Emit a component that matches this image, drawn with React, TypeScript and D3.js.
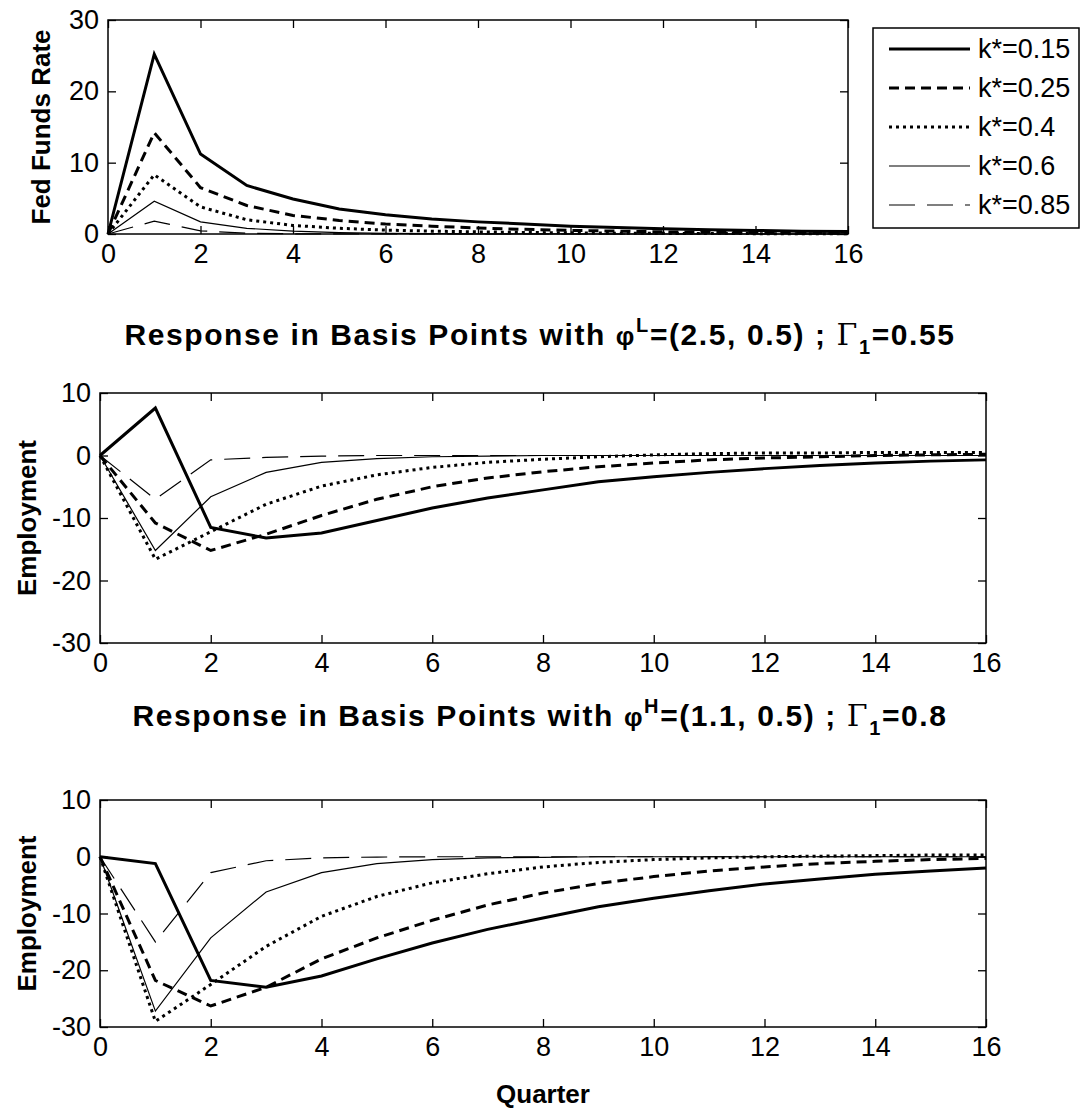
import React, { useEffect, useRef } from "react";
import * as d3 from "d3";

// quarters after the shock
const quarters = d3.range(0, 17);
const seriesLabels = ["k*=0.15", "k*=0.25", "k*=0.4", "k*=0.6", "k*=0.85"];

// Fed Funds Rate responses
const fedK015 = [0, 25.2, 11.2, 6.8, 4.9, 3.5, 2.7, 2.1, 1.7, 1.4, 1.1, 0.9, 0.75, 0.6, 0.5, 0.4, 0.35];
const fedK025 = [0, 14.2, 6.5, 4.0, 2.6, 1.9, 1.4, 1.1, 0.85, 0.65, 0.5, 0.4, 0.3, 0.25, 0.2, 0.15, 0.12];
const fedK04 = [0, 8.3, 3.8, 2.0, 1.2, 0.8, 0.55, 0.4, 0.3, 0.22, 0.16, 0.12, 0.09, 0.07, 0.05, 0.04, 0.03];
const fedK06 = [0, 4.6, 1.7, 0.8, 0.4, 0.2, 0.1, 0.05, 0.03, 0.02, 0.01, 0, 0, 0, 0, 0, 0];
const fedK085 = [0, 1.8, 0.45, 0.1, 0.03, 0.01, 0, 0, 0, 0, 0, 0, 0, 0, 0, 0, 0];

// Employment, phi^L = (2.5, 0.5), Gamma_1 = 0.55
const empLK015 = [0, 7.6, -11.5, -13.2, -12.4, -10.4, -8.4, -6.8, -5.5, -4.2, -3.4, -2.7, -2.1, -1.6, -1.2, -0.9, -0.7];
const empLK025 = [0, -10.8, -15.2, -12.6, -9.6, -7.0, -5.0, -3.6, -2.6, -1.8, -1.2, -0.7, -0.4, -0.2, 0, 0.1, 0.2];
const empLK04 = [0, -16.6, -12.2, -7.8, -4.9, -3.1, -1.9, -1.1, -0.6, -0.2, 0.1, 0.3, 0.4, 0.4, 0.5, 0.5, 0.5];
const empLK06 = [0, -15.2, -6.6, -2.7, -1.1, -0.5, -0.2, -0.1, 0, 0, 0, 0, 0, 0, 0, 0, 0];
const empLK085 = [0, -7.0, -0.7, -0.3, -0.1, 0, 0, 0, 0, 0, 0, 0, 0, 0, 0, 0, 0];

// Employment, phi^H = (1.1, 0.5), Gamma_1 = 0.8
const empHK015 = [0, -1.2, -21.8, -23.0, -21.0, -18.0, -15.2, -12.8, -10.8, -8.8, -7.3, -6.0, -4.8, -3.9, -3.1, -2.5, -2.0];
const empHK025 = [0, -21.8, -26.3, -23.0, -18.0, -14.3, -11.2, -8.5, -6.4, -4.7, -3.5, -2.5, -1.8, -1.2, -0.8, -0.5, -0.3];
const empHK04 = [0, -29.0, -22.5, -15.8, -10.5, -7.0, -4.6, -3.0, -1.8, -1.0, -0.5, -0.2, 0, 0.1, 0.2, 0.3, 0.3];
const empHK06 = [0, -27.2, -14.3, -6.2, -2.8, -1.2, -0.5, -0.2, -0.1, 0, 0, 0, 0, 0, 0, 0, 0];
const empHK085 = [0, -15.0, -2.8, -0.7, -0.2, -0.05, 0, 0, 0, 0, 0, 0, 0, 0, 0, 0, 0];

const xTicks = d3.range(0, 17, 2);
const fedTicks = [0, 10, 20, 30];
const empTicks = [-30, -20, -10, 0, 10];

const lineStyles = [
  { width: 3, dash: null },
  { width: 3, dash: "10,6" },
  { width: 3, dash: "3,4" },
  { width: 1.2, dash: null },
  { width: 1.2, dash: "26,12" },
];

const FONT = "'Liberation Sans', Arial, Helvetica, sans-serif";

export default function App() {
  const svgRef = useRef<SVGSVGElement>(null);

  useEffect(() => {
    document.body.style.margin = "0";
    const svg = d3.select(svgRef.current);
    svg.selectAll("*").remove();

    const panels = [
      {
        left: 108, right: 848, top: 20, bottom: 234,
        yDomain: [0, 30], yTicks: fedTicks,
        series: [fedK015, fedK025, fedK04, fedK06, fedK085],
        yLabel: "Fed Funds Rate", labelX: 41,
      },
      {
        left: 100, right: 986, top: 393, bottom: 643,
        yDomain: [-30, 10], yTicks: empTicks,
        series: [empLK015, empLK025, empLK04, empLK06, empLK085],
        yLabel: "Employment", labelX: 27,
      },
      {
        left: 100, right: 986, top: 800, bottom: 1027,
        yDomain: [-30, 10], yTicks: empTicks,
        series: [empHK015, empHK025, empHK04, empHK06, empHK085],
        yLabel: "Employment", labelX: 27,
      },
    ];

    const plain = (d) => String(d);

    panels.forEach((p) => {
      const x = d3.scaleLinear().domain([0, 16]).range([p.left, p.right]);
      const y = d3.scaleLinear().domain(p.yDomain).range([p.bottom, p.top]);

      const g = svg.append("g");

      const line = d3
        .line<number>()
        .x((d, i) => x(quarters[i]))
        .y((d) => y(d));

      p.series.forEach((s, i) => {
        const st = lineStyles[i];
        g.append("path")
          .datum(s)
          .attr("fill", "none")
          .attr("stroke", "#000")
          .attr("stroke-width", st.width)
          .attr("stroke-dasharray", st.dash)
          .attr("stroke-linejoin", "miter")
          .attr("d", line);
      });

      // axes with inward ticks, mirrored on top/right
      const styleAxis = (sel) => {
        sel.select(".domain").remove();
        sel.selectAll("line").attr("stroke", "#000").attr("stroke-width", 1.3);
        sel.selectAll("text")
          .style("font-family", FONT)
          .style("font-size", "27px")
          .attr("fill", "#000");
      };

      g.append("g")
        .attr("transform", `translate(0,${p.bottom})`)
        .call(d3.axisBottom(x).tickValues(xTicks).tickSize(-8).tickPadding(10).tickFormat(plain))
        .call(styleAxis);
      g.append("g")
        .attr("transform", `translate(0,${p.top})`)
        .call(d3.axisTop(x).tickValues(xTicks).tickSize(-8).tickFormat(() => ""))
        .call(styleAxis);
      g.append("g")
        .attr("transform", `translate(${p.left},0)`)
        .call(d3.axisLeft(y).tickValues(p.yTicks).tickSize(-8).tickPadding(9).tickFormat(plain))
        .call(styleAxis);
      g.append("g")
        .attr("transform", `translate(${p.right},0)`)
        .call(d3.axisRight(y).tickValues(p.yTicks).tickSize(-8).tickFormat(() => ""))
        .call(styleAxis);

      g.append("rect")
        .attr("x", p.left)
        .attr("y", p.top)
        .attr("width", p.right - p.left)
        .attr("height", p.bottom - p.top)
        .attr("fill", "none")
        .attr("stroke", "#000")
        .attr("stroke-width", 1.5);

      g.append("text")
        .attr("transform", `translate(${p.labelX},${(p.top + p.bottom) / 2}) rotate(-90)`)
        .attr("text-anchor", "middle")
        .attr("dy", "0.35em")
        .style("font-family", FONT)
        .style("font-size", "26px")
        .style("font-weight", "bold")
        .text(p.yLabel);
    });

    // titles
    const titles = [
      { y: 345, sup: "L", params: "=(2.5, 0.5) ; ", gamma: "=0.55" },
      { y: 726, sup: "H", params: "=(1.1, 0.5) ; ", gamma: "=0.8" },
    ];
    titles.forEach((t) => {
      const txt = svg.append("text")
        .attr("x", 540)
        .attr("y", t.y)
        .attr("text-anchor", "middle")
        .style("font-family", FONT)
        .style("font-size", "30px")
        .style("font-weight", "bold")
        .style("letter-spacing", "1.6px")
        .style("white-space", "pre");
      txt.append("tspan").text("Response in Basis Points with ");
      txt.append("tspan").style("font-size", "26px").text("φ");
      txt.append("tspan").attr("dy", -13).style("font-size", "20px").text(t.sup);
      txt.append("tspan").attr("dy", 13).text(t.params);
      txt.append("tspan")
        .style("font-family", "'DejaVu Serif', serif")
        .style("font-weight", "normal")
        .text("Γ");
      txt.append("tspan").attr("dy", 9).style("font-size", "20px").text("1");
      txt.append("tspan").attr("dy", -9).text(t.gamma);
    });

    // x axis label
    svg.append("text")
      .attr("x", 543)
      .attr("y", 1103)
      .attr("text-anchor", "middle")
      .style("font-family", FONT)
      .style("font-size", "26px")
      .style("font-weight", "bold")
      .text("Quarter");

    // legend
    const lg = svg.append("g");
    lg.append("rect")
      .attr("x", 873)
      .attr("y", 28)
      .attr("width", 206)
      .attr("height", 200)
      .attr("fill", "#fff")
      .attr("stroke", "#000")
      .attr("stroke-width", 1.5);
    seriesLabels.forEach((lab, i) => {
      const ly = 49 + i * 39;
      const st = lineStyles[i];
      lg.append("line")
        .attr("x1", 889)
        .attr("x2", 970)
        .attr("y1", ly)
        .attr("y2", ly)
        .attr("stroke", "#000")
        .attr("stroke-width", st.width)
        .attr("stroke-dasharray", st.dash);
      lg.append("text")
        .attr("x", 978)
        .attr("y", ly)
        .attr("dy", "0.35em")
        .style("font-family", FONT)
        .style("font-size", "27px")
        .text(lab);
    });
  }, []);

  return (
    <svg
      ref={svgRef}
      width={1083}
      height={1117}
      style={{ display: "block", background: "#fff" }}
    />
  );
}
